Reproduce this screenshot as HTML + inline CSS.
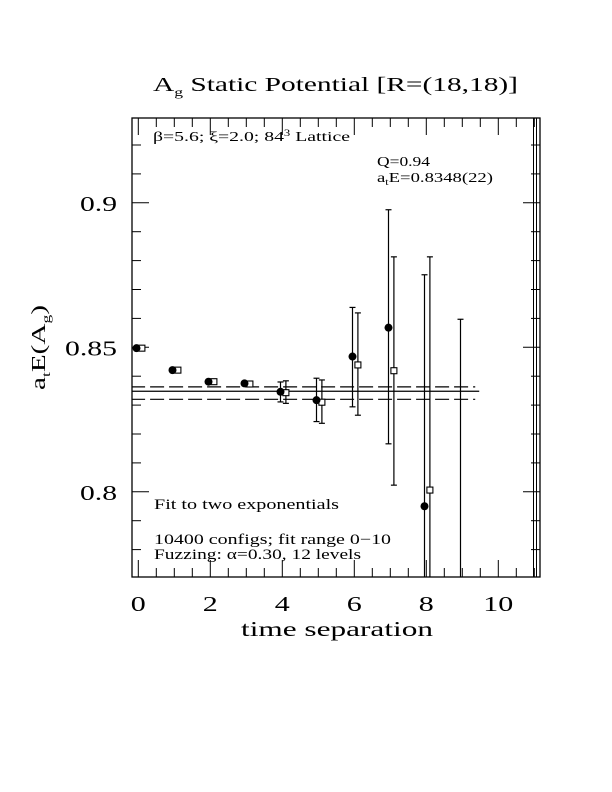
<!DOCTYPE html>
<html><head><meta charset="utf-8"><style>
html,body{margin:0;padding:0;background:#fff;width:612px;height:792px;overflow:hidden;}
svg{display:block;position:absolute;left:0;top:0;font-family:"Liberation Serif",serif;}
</style></head><body>
<svg id="chart" width="612" height="792" viewBox="0 0 612 792" xmlns="http://www.w3.org/2000/svg">
<rect width="612" height="792" fill="#fff"/>
<text x="153" y="91" font-size="20" textLength="365" lengthAdjust="spacingAndGlyphs">A<tspan font-size="12" dy="5">g</tspan><tspan dy="-5"> Static Potential [R=(18,18)]</tspan></text>
<g id="frame"></g>
<g id="ticks"></g>
<g id="marks"></g>
<text x="153" y="141" font-size="14" textLength="197" lengthAdjust="spacingAndGlyphs">β=5.6; ξ=2.0; 84<tspan font-size="9" dy="-5">3</tspan><tspan dy="5"> Lattice</tspan></text>
<text x="377" y="166" font-size="14" textLength="53" lengthAdjust="spacingAndGlyphs">Q=0.94</text>
<text x="377" y="182" font-size="14" textLength="116" lengthAdjust="spacingAndGlyphs">a<tspan font-size="9" dy="3">t</tspan><tspan dy="-3">E=0.8348(22)</tspan></text>
<text x="154" y="509" font-size="14.5" textLength="185" lengthAdjust="spacingAndGlyphs">Fit to two exponentials</text>
<text x="154" y="544" font-size="14.5" textLength="237" lengthAdjust="spacingAndGlyphs">10400 configs; fit range 0−10</text>
<text x="154" y="559" font-size="14.5" textLength="207" lengthAdjust="spacingAndGlyphs">Fuzzing: α=0.30, 12 levels</text>
<text x="241" y="636" font-size="21" textLength="192" lengthAdjust="spacingAndGlyphs">time separation</text>
<text transform="translate(45,390) rotate(-90)" font-size="20" textLength="85" lengthAdjust="spacingAndGlyphs">a<tspan font-size="12" dy="5">t</tspan><tspan dy="-5">E(A</tspan><tspan font-size="12" dy="5">g</tspan><tspan dy="-5">)</tspan></text>
</svg>
<script>
const xTicks=[0,2,4,6,8,10];
const yTicks=[0.8,0.85,0.9];
const yTickLabels=["0.8","0.85","0.9"];
const tCircle=[0,1,2,3,4,5,6,7,8,9];
const eCircle=[0.8497,0.8421,0.8381,0.8375,0.8346,0.8317,0.8468,0.8568,0.7950,0.70];
const hiCircle=[0.8500,0.8424,0.8384,0.8379,0.8380,0.8393,0.8638,0.8976,0.8751,0.8597];
const loCircle=[0.8494,0.8418,0.8378,0.8371,0.8311,0.8243,0.8294,0.8166,0.70,0.60];
const tSquare=[0,1,2,3,4,5,6,7,8];
const eSquare=[0.8497,0.8421,0.8381,0.8373,0.8343,0.8310,0.8439,0.8419,0.8006];
const hiSquare=[0.8500,0.8424,0.8384,0.8377,0.8384,0.8387,0.8619,0.8813,0.8813];
const loSquare=[0.8494,0.8418,0.8378,0.8369,0.8306,0.8237,0.8265,0.8023,0.70];
const fitE=[0.8348];
const fitHi=[0.8363];
const fitLo=[0.8320];
const fitRange=[-0.2,9.47];

const L=132,R=540,T=118,B=577;
const X=v=>138.3+v*36;
const Y=v=>347.3-(v-0.85)*2890;
const NS="http://www.w3.org/2000/svg";
function mk(parent,tag,attrs){const e=document.createElementNS(NS,tag);for(const k in attrs)e.setAttribute(k,attrs[k]);parent.appendChild(e);return e;}
const frame=document.getElementById('frame'),ticks=document.getElementById('ticks'),marks=document.getElementById('marks');
const fr=mk(frame,'rect',{x:L,y:T,width:R-L,height:B-T,fill:'none',stroke:'#000','stroke-width':1.3});


const defs=mk(document.getElementById('chart'),'defs',{});
const cp=mk(defs,'clipPath',{id:'clip'});mk(cp,'rect',{x:L,y:T,width:R-L,height:B-T});
marks.setAttribute('clip-path','url(#clip)');
for(let v=0;v<=11.01;v+=0.5){
  const major=Math.abs(v-Math.round(v/2)*2)<0.01;
  const len=major?17:9;
  const x=X(v);
  const t1=mk(ticks,'line',{x1:x,x2:x,y1:B,y2:B-len,stroke:'#000'});
  
  
  mk(ticks,'line',{x1:x,x2:x,y1:T,y2:T+len,stroke:'#000'});
}
xTicks.forEach(v=>{const s=String(v);const w=s.length*15;
 const t=mk(ticks,'text',{x:X(v)-w/2,y:611,'font-size':21,textLength:w,lengthAdjust:'spacingAndGlyphs'});t.textContent=s;
 
 });
for(let i=0;i<=16;i++){const v=0.78+i*0.01;const y=Y(v);if(y<T||y>B)continue;
  const major=Math.abs(v*100-Math.round(v*20)*5)<0.01;const len=major?17:9;
  const t1=mk(ticks,'line',{x1:L,x2:L+len,y1:y,y2:y,stroke:'#000'});
  
  
  mk(ticks,'line',{x1:R,x2:R-len,y1:y,y2:y,stroke:'#000'});}
yTicks.forEach((v,i)=>{const s=yTickLabels[i];const w=s.length===3?37:52;
 const t=mk(ticks,'text',{x:117-w,y:Y(v)+8,'font-size':21,textLength:w,lengthAdjust:'spacingAndGlyphs'});t.textContent=s;
 
 });
[533.5,536.5].forEach(x=>{const l=mk(frame,'line',{x1:x,x2:x,y1:T,y2:B,stroke:'#000'});
 
 });
const fl=mk(marks,'line',{x1:X(fitRange[0]),x2:X(fitRange[1]),y1:Y(fitE[0]),y2:Y(fitE[0]),stroke:'#000','stroke-width':1.2});


[fitHi[0],fitLo[0]].forEach(v=>{const d=mk(marks,'line',{x1:X(fitRange[0]),x2:X(fitRange[1])-4,y1:Y(v),y2:Y(v),stroke:'#000','stroke-width':1.2,'stroke-dasharray':'14,5'});
 
 });
function errbar(x,hi,lo,name){const g=mk(marks,'g',{});
 
 
 mk(g,'line',{x1:x,x2:x,y1:Y(hi),y2:Y(lo),stroke:'#000','stroke-width':1.2});
 mk(g,'line',{x1:x-3,x2:x+3,y1:Y(hi),y2:Y(hi),stroke:'#000','stroke-width':1.2});
 mk(g,'line',{x1:x-3,x2:x+3,y1:Y(lo),y2:Y(lo),stroke:'#000','stroke-width':1.2});}
tSquare.forEach((t,i)=>{const x=X(t+0.1);errbar(x,hiSquare[i],loSquare[i],'square-error-bar');
 const s=mk(marks,'rect',{x:x-3,y:Y(eSquare[i])-3,width:6,height:6,fill:'#fff',stroke:'#000','stroke-width':1.1});
 
 });
tCircle.forEach((t,i)=>{const x=X(t-0.05);errbar(x,hiCircle[i],loCircle[i],'circle-error-bar');
 const c=mk(marks,'circle',{cx:x,cy:Y(eCircle[i]),r:4,fill:'#000'});
 
 });
</script>
</body></html>
